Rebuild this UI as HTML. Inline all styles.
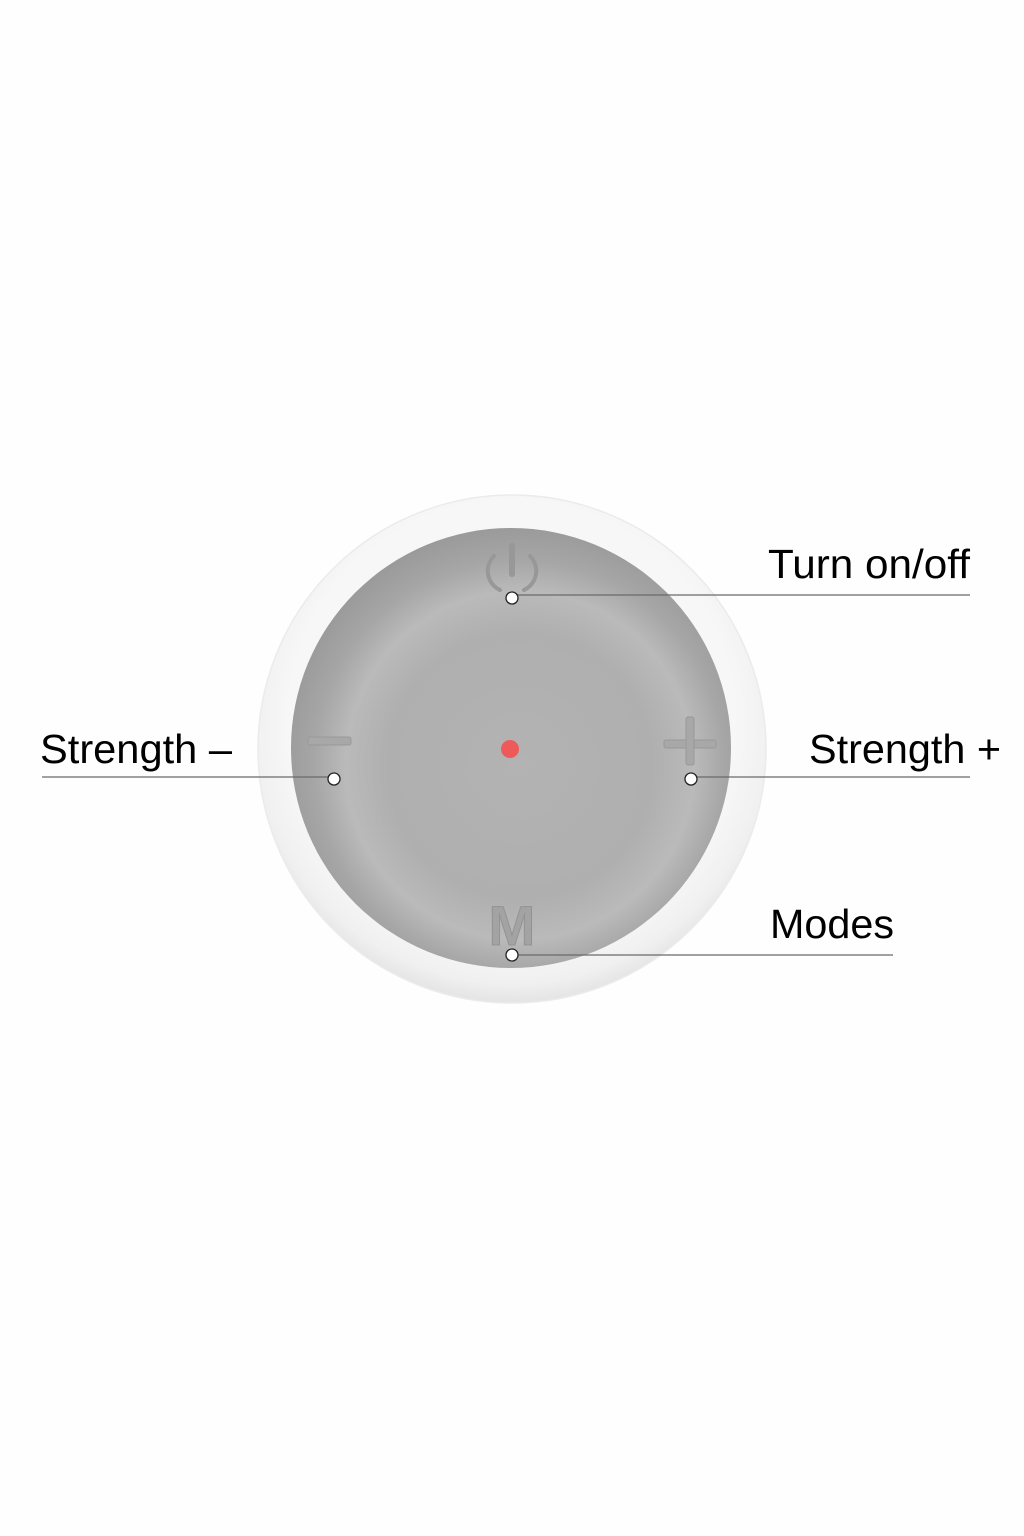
<!DOCTYPE html>
<html><head><meta charset="utf-8"><style>
html,body{margin:0;padding:0;background:#fff;}
svg{display:block;}
text{font-family:"Liberation Sans",sans-serif;fill:#000;}
</style></head><body>
<svg width="1024" height="1536" viewBox="0 0 1024 1536" xmlns="http://www.w3.org/2000/svg">
<defs>
<radialGradient id="ring" cx="50%" cy="45%" r="55%">
<stop offset="0.8" stop-color="#f7f7f7"/><stop offset="0.93" stop-color="#f0f0f0"/><stop offset="1" stop-color="#e4e4e4"/>
</radialGradient>
<radialGradient id="disc" cx="52%" cy="54%" r="55%">
<stop offset="0" stop-color="#b3b3b3"/><stop offset="0.55" stop-color="#afafaf"/><stop offset="0.72" stop-color="#bababa"/><stop offset="0.85" stop-color="#a6a6a6"/><stop offset="1" stop-color="#999"/>
</radialGradient>
</defs>
<rect width="1024" height="1536" fill="#fefefe"/>
<circle cx="512" cy="749" r="254" fill="url(#ring)" stroke="#ebebeb" stroke-width="1.5"/>
<circle cx="511" cy="748" r="220" fill="url(#disc)"/>
<!-- power icon -->
<g fill="none" stroke="#989898" stroke-width="4" stroke-linecap="round">
<path d="M494 556 A21 21 0 0 0 500 590"/>
<path d="M530 556 A21 21 0 0 1 524 590"/>
<line x1="512" y1="546" x2="512" y2="574" stroke-width="6"/>
</g>
<!-- minus -->
<rect x="308" y="737" width="43" height="8" rx="2" fill="#a8a8a8" stroke="#999" stroke-width="1"/>
<!-- plus -->
<rect x="664" y="740" width="52" height="8" rx="2" fill="#a8a8a8" stroke="#999" stroke-width="1"/>
<rect x="686" y="717" width="8" height="48" rx="2" fill="#a8a8a8" stroke="#999" stroke-width="1"/>
<text x="512" y="945" text-anchor="middle" font-size="56" font-weight="bold" style="fill:#a3a3a3;stroke:#939393;stroke-width:1">M</text>
<circle cx="510" cy="749" r="9" fill="#ee5a5a"/>
<!-- leader lines -->
<g stroke="#6a6a6a" stroke-width="1.3">
<line x1="512" y1="595" x2="970" y2="595"/>
<line x1="42" y1="777" x2="334" y2="777"/>
<line x1="691" y1="777" x2="970" y2="777"/>
<line x1="512" y1="955" x2="893" y2="955"/>
</g>
<g fill="#fff" stroke="#222" stroke-width="1.3">
<circle cx="512" cy="598" r="6"/>
<circle cx="334" cy="779" r="6"/>
<circle cx="691" cy="779" r="6"/>
<circle cx="512" cy="955" r="6"/>
</g>
<text x="768" y="578" font-size="41" textLength="202" lengthAdjust="spacingAndGlyphs">Turn on/off</text>
<text x="40" y="763" font-size="41" textLength="192" lengthAdjust="spacingAndGlyphs">Strength –</text>
<text x="809" y="763" font-size="41" textLength="192" lengthAdjust="spacingAndGlyphs">Strength +</text>
<text x="770" y="938" font-size="41" textLength="124" lengthAdjust="spacingAndGlyphs">Modes</text>
</svg>
</body></html>
